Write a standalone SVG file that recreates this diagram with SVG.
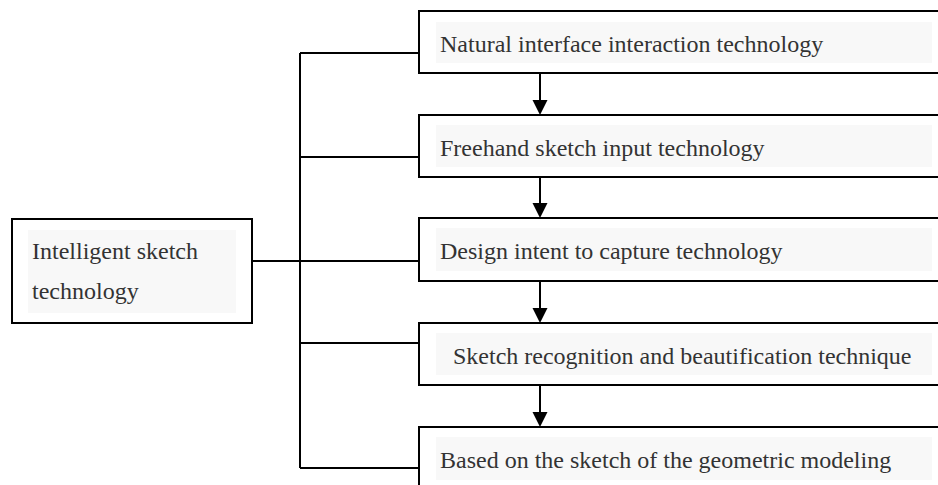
<svg xmlns="http://www.w3.org/2000/svg" width="938" height="485" viewBox="0 0 938 485">
  <defs>
    <style>
      .box { fill: #ffffff; stroke: #000000; stroke-width: 2; }
      .label-bg { fill: #f8f8f8; }
      .label { font-family: "Liberation Serif", "Times New Roman", serif; font-size: 24px; fill: #333333; }
      .wire { fill: none; stroke: #000000; stroke-width: 2; }
      .head { fill: #000000; }
    </style>
  </defs>
  <rect width="938" height="485" fill="#ffffff"/>

  <g id="connectors">
    <!-- tree bracket from the root -->
    <path class="wire" d="M252 261 H419"/>
    <path class="wire" d="M300 53 V468"/>
    <path class="wire" d="M300 53 H419"/>
    <path class="wire" d="M300 157 H419"/>
    <path class="wire" d="M300 343 H419"/>
    <path class="wire" d="M300 468 H419"/>
    <!-- chain arrows between steps -->
    <path class="wire" d="M540 73 V101"/>
    <polygon class="head" points="532.5,100 547.5,100 540,115"/>
    <path class="wire" d="M540 177 V204"/>
    <polygon class="head" points="532.5,203 547.5,203 540,218"/>
    <path class="wire" d="M540 281 V309"/>
    <polygon class="head" points="532.5,308 547.5,308 540,323"/>
    <path class="wire" d="M540 385 V413"/>
    <polygon class="head" points="532.5,412 547.5,412 540,427"/>
  </g>

  <g id="root">
    <rect class="box" x="12" y="219" width="240" height="104"/>
    <rect class="label-bg" x="28" y="230" width="208" height="83"/>
    <text class="label" x="32" y="259">Intelligent sketch</text>
    <text class="label" x="32" y="299">technology</text>
  </g>

  <g id="natural-interface">
    <rect class="box" x="419" y="11" width="530" height="62"/>
    <rect class="label-bg" x="436" y="22" width="496" height="41"/>
    <text class="label" x="440" y="52">Natural interface interaction technology</text>
  </g>

  <g id="freehand-input">
    <rect class="box" x="419" y="115" width="530" height="62"/>
    <rect class="label-bg" x="436" y="125" width="496" height="42"/>
    <text class="label" x="440" y="156">Freehand sketch input technology</text>
  </g>

  <g id="design-intent">
    <rect class="box" x="419" y="218" width="530" height="63"/>
    <rect class="label-bg" x="436" y="228" width="496" height="43"/>
    <text class="label" x="440" y="259">Design intent to capture technology</text>
  </g>

  <g id="recognition">
    <rect class="box" x="419" y="323" width="530" height="62"/>
    <rect class="label-bg" x="436" y="333" width="496" height="42"/>
    <text class="label" x="453" y="364">Sketch recognition and beautification technique</text>
  </g>

  <g id="geometric-modeling">
    <rect class="box" x="419" y="427" width="530" height="70"/>
    <rect class="label-bg" x="436" y="437" width="496" height="43"/>
    <text class="label" x="440" y="468">Based on the sketch of the geometric modeling</text>
  </g>
</svg>
